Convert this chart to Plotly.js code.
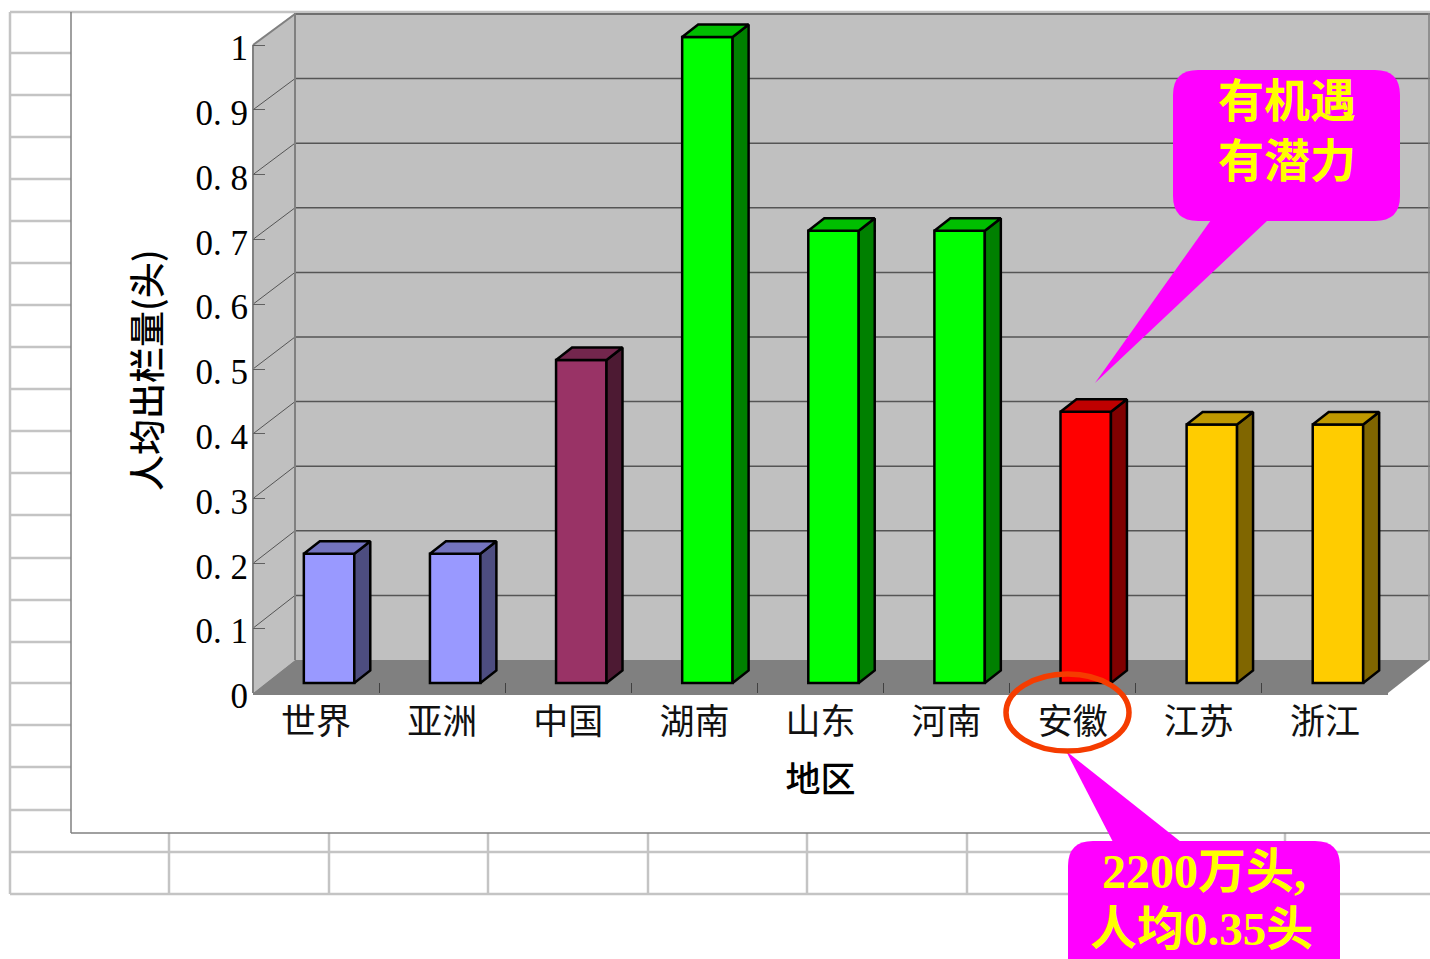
<!DOCTYPE html>
<html><head><meta charset="utf-8">
<script src="https://cdn.plot.ly/plotly-3.0.1.min.js"></script>
<style>html,body{margin:0;padding:0;background:#fff}#c{width:1430px;height:959px}</style>
</head><body><div id="c"></div>
<script>
const categories = ["世界","亚洲","中国","湖南","山东","河南","安徽","江苏","浙江"];
const values = [0.2,0.2,0.5,1.0,0.7,0.7,0.42,0.4,0.4];
const frontColors = ["#9999ff","#9999ff","#993366","#00ff00","#00ff00","#00ff00","#ff0000","#ffcc00","#ffcc00"];
const sideColors  = ["#4d4d80","#4d4d80","#4d1a33","#008000","#008000","#008000","#800000","#806600","#806600"];
const topColors   = ["#7373bf","#7373bf","#73264d","#00bf00","#00bf00","#00bf00","#bf0000","#bf9900","#bf9900"];
const yTickVals = [0,0.1,0.2,0.3,0.4,0.5,0.6,0.7,0.8,0.9,1];
const yTickText = ["0","0. 1","0. 2","0. 3","0. 4","0. 5","0. 6","0. 7","0. 8","0. 9","1"];
const xTitle = "地区", yTitle = "人均出栏量(头)";

const W=1430,H=959, L=253,R=1388,T=45,B=693,TOP=5;
const catPx=(R-L)/categories.length, unitPx=B-T;
// bars stand on a plane slightly behind the axis, where one unit is 646px instead of 648px
const planeScale=646/648;
const barW=0.4, shiftX=13/catPx, base=10/unitPx, depthX=16/catPx, depthY=12.5/unitPx;
const px=x=>x/W, py=y=>1-y/H;
const cjk="'Noto Sans CJK SC'";
const serif="'Liberation Serif','Noto Sans CJK SC'";
const scaled=values.map(v=>v*planeScale);

const traces=[{
  type:"bar",x:categories,y:scaled,base:base,xaxis:"x",yaxis:"y",
  width:barW,offset:shiftX-barW/2,cliponaxis:false,
  marker:{color:frontColors,line:{color:"#000",width:2.5}},hoverinfo:"skip",showlegend:false
}];
scaled.forEach((v,i)=>{
  const l=i+shiftX-barW/2,r=l+barW,t=v+base,b=base;
  traces.push({type:"scatter",mode:"lines",xaxis:"x2",yaxis:"y",cliponaxis:false,fill:"toself",fillcolor:sideColors[i],
    line:{color:"#000",width:2.5},hoverinfo:"skip",showlegend:false,
    x:[r,r+depthX,r+depthX,r,r],y:[b,b+depthY,t+depthY,t,b]});
  traces.push({type:"scatter",mode:"lines",xaxis:"x2",yaxis:"y",cliponaxis:false,fill:"toself",fillcolor:topColors[i],
    line:{color:"#000",width:2.5},hoverinfo:"skip",showlegend:false,
    x:[l,r,r+depthX,l+depthX,l],y:[t,t,t+depthY,t+depthY,t]});
});

const shapes=[];
const seg=(x0,y0,x1,y1,color,width,layer)=>shapes.push({type:"line",xref:"paper",yref:"paper",x0:px(x0),y0:py(y0),x1:px(x1),y1:py(y1),line:{color,width},layer:layer||"below"});
const poly=(pts,fill,layer,line)=>shapes.push({type:"path",xref:"paper",yref:"paper",layer:layer||"below",fillcolor:fill,line:line||{width:0},
  path:"M"+pts.map(p=>px(p[0])+","+py(p[1])).join("L")+"Z"});
const GRID="#c4c4c4";
// worksheet grid
seg(10,12,1430,12,GRID,2.5);
seg(10,12,10,894,GRID,2.5);
[53,95,137,179,221,263,305,347,389,431,473,515,558,600,642,683,725,767,810].forEach(y=>seg(10,y,71,y,GRID,2.5));
[852,894].forEach(y=>seg(10,y,1430,y,GRID,2.5));
[169,329,488,648,807,967,1126,1285].forEach(x=>seg(x,833,x,894,GRID,2.5));
seg(71,12,71,833,"#808080",1.5);
seg(71,833,1430,833,"#808080",1.5);
// 3D walls
poly([[253,45],[295,13],[295,660],[253,693]],"#c0c0c0");
poly([[295,13],[1430,13],[1430,660],[295,660]],"#c0c0c0");
poly([[253,693],[295,660],[1430,660],[1388,693]],"#808080");
yTickVals.forEach(v=>{
  const yb=660-646*v,yf=B-unitPx*v;
  if(v>0){seg(295,yb,1430,yb,"#555",1.5);seg(253,yf,295,yb,v===1?"#808080":"#555",v===1?2:1);}
});
seg(295,13,295,660,"#808080",2);
seg(1429,13,1429,660,"#808080",1.5);
seg(253,45,253,693,"#808080",2);
// callouts
const round=(x0,y0,x1,y1,r)=>{
  const X=px,Y=py;
  return `M${X(x0+r)},${Y(y0)}L${X(x1-r)},${Y(y0)}Q${X(x1)},${Y(y0)} ${X(x1)},${Y(y0+r)}L${X(x1)},${Y(y1-r)}Q${X(x1)},${Y(y1)} ${X(x1-r)},${Y(y1)}L${X(x0+r)},${Y(y1)}Q${X(x0)},${Y(y1)} ${X(x0)},${Y(y1-r)}L${X(x0)},${Y(y0+r)}Q${X(x0)},${Y(y0)} ${X(x0+r)},${Y(y0)}Z`;
};
const MAG="#ff00ff";
poly([[1211,220],[1268,220],[1095,383]],MAG,"above");
shapes.push({type:"path",xref:"paper",yref:"paper",layer:"above",fillcolor:MAG,line:{width:0},path:round(1173,70,1400,221,25)});
poly([[1066,751],[1113,842],[1181,842]],MAG,"above");
shapes.push({type:"path",xref:"paper",yref:"paper",layer:"above",fillcolor:MAG,line:{width:0},path:round(1068,841,1340,985,25)});
shapes.push({type:"circle",xref:"paper",yref:"paper",layer:"above",x0:px(1006),x1:px(1129),y0:py(674),y1:py(751),fillcolor:"rgba(0,0,0,0)",line:{color:"#f53c00",width:5.5}});

const note=(text,x,y,font,size)=>({xref:"paper",yref:"paper",x:px(x),y:py(y),xanchor:"center",yanchor:"middle",showarrow:false,text:text,
  font:{family:font,size:size,color:"#ffff00",weight:700}});
const annotations=[
  note("有机遇<br>有潜力",1287,127,cjk,46),
  note("2200万头,",1204,871,serif,48),
  note("人均0.35头",1201,929,serif,47),
  {xref:"paper",yref:"paper",x:px(145),y:py(370),xanchor:"center",yanchor:"middle",showarrow:false,textangle:-90,text:yTitle,
   font:{family:cjk,size:36,color:"#000",weight:500}}
];

const layout={
  width:W,height:H,margin:{l:0,r:0,t:0,b:0,autoexpand:false},
  paper_bgcolor:"#fff",plot_bgcolor:"rgba(0,0,0,0)",showlegend:false,barmode:"overlay",
  font:{family:cjk,color:"#000"},
  xaxis:{type:"category",categoryorder:"array",categoryarray:categories,range:[-0.5,categories.length-0.5],
    domain:[px(L),px(R)],anchor:"y",tickson:"boundaries",ticks:"inside",ticklen:10,tickcolor:"#404040",tickwidth:1,
    showline:true,linecolor:"#808080",linewidth:2,showgrid:false,zeroline:false,tickangle:0,ticklabelstandoff:-3,
    tickfont:{family:cjk,size:35,color:"#111"},
    title:{text:xTitle,standoff:24,font:{family:cjk,size:35,color:"#000",weight:500}}},
  xaxis2:{overlaying:"x",domain:[px(L),px(R)],anchor:"y",range:[-0.5,categories.length-0.5],visible:false},
  yaxis:{domain:[py(B),py(TOP)],range:[0,(B-TOP)/unitPx],anchor:"x",tickmode:"array",tickvals:yTickVals,ticktext:yTickText,
    ticks:"inside",ticklen:12,tickcolor:"#606060",tickwidth:1,showline:false,showgrid:false,zeroline:false,ticklabelstandoff:4,ticklabelshift:3,
    tickfont:{family:"'Liberation Serif'",size:35,color:"#000"}},
  shapes:shapes,annotations:annotations
};
Plotly.newPlot("c",traces,layout,{displayModeBar:false,staticPlot:true});
</script></body></html>
